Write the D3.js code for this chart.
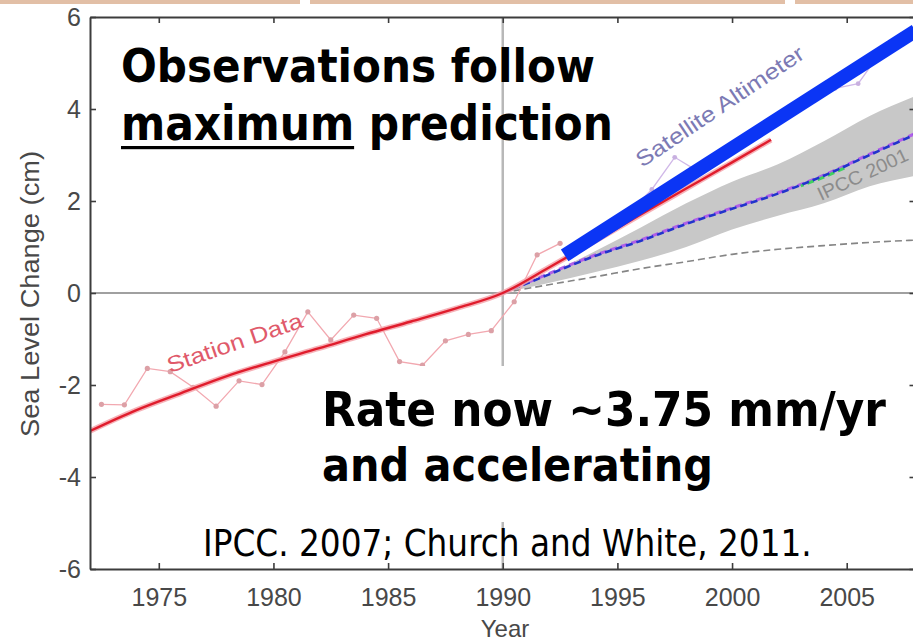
<!DOCTYPE html>
<html><head><meta charset="utf-8">
<script src="https://cdn.jsdelivr.net/npm/d3@7"></script>
<style>html,body{margin:0;padding:0;background:#fff;overflow:hidden}</style>
</head><body>
<svg id="c" width="913" height="644"></svg>
<script>
// ---------- data ----------
const xTicks = [1975, 1980, 1985, 1990, 1995, 2000, 2005];
const yTicks = [-6, -4, -2, 0, 2, 4, 6];

const stationYears = [1972.5,1973.5,1974.5,1975.5,1976.5,1977.5,1978.5,1979.5,1980.5,1981.5,1982.5,1983.5,1984.5,1985.5,1986.5,1987.5,1988.5,1989.5,1990.5,1991.5,1992.5];
const stationValues = [-2.42,-2.43,-1.64,-1.71,-2.05,-2.46,-1.91,-1.99,-1.28,-0.41,-1.02,-0.48,-0.55,-1.49,-1.57,-1.04,-0.90,-0.82,-0.19,0.83,1.08];

const trendYears = [1972,1974,1976,1978,1980,1982,1984,1986,1988,1990,1992,1994,1996,1998,2000,2001.7];
const trendValues = [-3.0,-2.55,-2.17,-1.8,-1.49,-1.2,-0.9,-0.62,-0.33,0,0.55,1.12,1.7,2.27,2.84,3.33];

const satYears = [1993.5,1994.5,1995.5,1996.5,1997.5,1998.5,1999.5,2000.5,2001.5,2002.5,2003.5,2004.5,2005.5,2006.5];
const satValues = [1.0,1.3,1.75,2.25,2.95,2.65,3.05,3.25,3.55,4.05,4.2,4.45,4.55,5.25];

const projYears = [1990,1992,1994,1996,1998,2000,2002,2004,2006,2008];
const bandUpper = [0,0.42,0.9,1.42,1.95,2.42,2.8,3.3,3.85,4.28];
const bandLower = [0,0.22,0.45,0.7,1.0,1.38,1.68,1.95,2.32,2.55];
const projCentral = [0,0.4,0.8,1.13,1.5,1.83,2.16,2.55,3.0,3.45];
const projMagenta = [0,0.42,0.82,1.15,1.52,1.85,2.18,2.56,3.02,3.47];
const projLow = [0,0.18,0.35,0.53,0.68,0.84,0.95,1.03,1.1,1.15];
const greenYears = [2003,2004,2005];
const greenValues = [2.33,2.52,2.74];

const maxYears = [1992.7, 2008];
const maxValues = [0.82, 5.70];

// ---------- setup ----------
const svg = d3.select("#c");
const X0 = 90, X1 = 915.5, Y0 = 17, Y1 = 569;
const x = d3.scaleLinear().domain([1972, 2008]).range([X0, X1]);
const y = d3.scaleLinear().domain([-6, 6]).range([Y1, Y0]);
const fmt = d => String(d);

// decorative top bars
[[0,300],[310,785],[795,913]].forEach(([a,b]) =>
  svg.append("rect").attr("x",a).attr("y",0).attr("width",b-a).attr("height",4).attr("fill","#e2bfa6"));

svg.append("defs").append("clipPath").attr("id","plot")
  .append("rect").attr("x",X0).attr("y",Y0).attr("width",X1-X0).attr("height",Y1-Y0);
const g = svg.append("g").attr("clip-path","url(#plot)");

// reference lines
g.append("line").attr("x1",x(1990)).attr("x2",x(1990)).attr("y1",Y0).attr("y2",Y1)
  .attr("stroke","#b8b8b8").attr("stroke-width",2.5);
g.append("line").attr("x1",X0).attr("x2",X1).attr("y1",y(0)).attr("y2",y(0))
  .attr("stroke","#808080").attr("stroke-width",1.6);

const lineP = (xs, vs, curve) => d3.line().curve(curve || d3.curveMonotoneX)
  .x((d,i)=>x(xs[i])).y((d,i)=>y(vs[i]))(vs);

// band
const area = d3.area().curve(d3.curveMonotoneX)
  .x((d,i)=>x(projYears[i])).y0((d,i)=>y(bandLower[i])).y1((d,i)=>y(bandUpper[i]));
g.append("path").attr("d", area(projYears)).attr("fill","#c8c8c8");

// projections
g.append("path").attr("d", lineP(projYears, projLow)).attr("fill","none")
  .attr("stroke","#858585").attr("stroke-width",1.6).attr("stroke-dasharray","7,4");
g.append("path").attr("d", lineP(projYears, projMagenta)).attr("fill","none")
  .attr("stroke","#b060e8").attr("stroke-width",3).attr("stroke-dasharray","7,4").attr("stroke-dashoffset",5);
g.append("path").attr("d", lineP(greenYears, greenValues)).attr("fill","none")
  .attr("stroke","#40d060").attr("stroke-width",3).attr("stroke-dasharray","7,4").attr("stroke-dashoffset",4);
g.append("path").attr("d", lineP(projYears, projCentral)).attr("fill","none")
  .attr("stroke","#2233cc").attr("stroke-width",2.6).attr("stroke-dasharray","7,4");

// station data
g.append("path").attr("d", lineP(stationYears, stationValues, d3.curveLinear)).attr("fill","none")
  .attr("stroke","#f2a8b0").attr("stroke-width",1.3);
g.selectAll(".st").data(stationValues).join("circle")
  .attr("cx",(d,i)=>x(stationYears[i])).attr("cy",d=>y(d)).attr("r",2.6).attr("fill","#dca0a6");

// satellite data
g.append("path").attr("d", lineP(satYears, satValues, d3.curveLinear)).attr("fill","none")
  .attr("stroke","#d0b8e8").attr("stroke-width",1.3);
g.selectAll(".sa").data(satValues).join("circle")
  .attr("cx",(d,i)=>x(satYears[i])).attr("cy",d=>y(d)).attr("r",2.4).attr("fill","#c8b0e0");

// red trend
g.append("path").attr("d", lineP(trendYears, trendValues)).attr("fill","none")
  .attr("stroke","#f4a4ac").attr("stroke-width",5.5).attr("stroke-opacity",0.85);
g.append("path").attr("d", lineP(trendYears, trendValues)).attr("fill","none")
  .attr("stroke","#e01c2c").attr("stroke-width",2.4);

// labels in chart
function rotLabel(txt, px, py, ang, size, color, len) {
  svg.append("text").attr("transform",`translate(${px},${py}) rotate(${ang})`)
    .attr("font-family","'Liberation Sans', Arial, sans-serif").attr("font-size",size)
    .attr("textLength",len).attr("lengthAdjust","spacingAndGlyphs")
    .attr("fill",color).text(txt);
}
rotLabel("Station Data", 170, 373, -19, 22, "#e05a6a", 142);
rotLabel("Satellite Altimeter", 642, 168, -34, 22, "#7c7ab4", 198);
rotLabel("IPCC 2001", 821, 201, -25, 19, "#8c8c8c", 98);

// thick blue line
svg.append("path").attr("d", lineP(maxYears, maxValues, d3.curveLinear)).attr("fill","none")
  .attr("stroke","#0b35f5").attr("stroke-width",14);

// axes
const axCol = "#3c3c3c";
function styleAxis(sel) {
  sel.select(".domain").attr("stroke",axCol).attr("stroke-width",2);
  sel.selectAll(".tick line").attr("stroke",axCol).attr("stroke-width",1.6);
  sel.selectAll(".tick text").attr("fill","#484848").attr("font-size",25)
    .attr("font-family","'Liberation Sans', Arial, sans-serif");
}
svg.append("g").attr("transform",`translate(0,${Y1})`)
  .call(d3.axisBottom(x).tickValues(xTicks).tickFormat(fmt).tickSizeInner(-6).tickSizeOuter(0).tickPadding(19))
  .call(styleAxis);
svg.append("g").attr("transform",`translate(0,${Y0})`)
  .call(d3.axisTop(x).tickValues(xTicks).tickFormat("").tickSizeInner(-6).tickSizeOuter(0))
  .call(styleAxis);
svg.append("g").attr("transform",`translate(${X0},0)`)
  .call(d3.axisLeft(y).tickValues(yTicks).tickFormat(fmt).tickSizeInner(-6).tickSizeOuter(0).tickPadding(9))
  .call(styleAxis);
svg.append("g").attr("transform",`translate(${X1},0)`)
  .call(d3.axisRight(y).tickValues(yTicks).tickFormat("").tickSizeInner(-6).tickSizeOuter(0))
  .call(styleAxis);

svg.append("text").attr("x",505).attr("y",637).attr("text-anchor","middle")
  .attr("font-family","'Liberation Sans', Arial, sans-serif").attr("font-size",24).attr("fill","#484848").text("Year");
svg.append("text").attr("transform","translate(39,294) rotate(-90)").attr("text-anchor","middle")
  .attr("font-family","'Liberation Sans', Arial, sans-serif").attr("font-size",26).attr("fill","#484848")
  .attr("textLength",286).attr("lengthAdjust","spacingAndGlyphs")
  .text("Sea Level Change (cm)");

// annotation texts
const bigFont = "'DejaVu Sans Condensed','DejaVu Sans',sans-serif";
function fitText(t, target) {
  const w = t.node().getComputedTextLength();
  t.attr("font-size", parseFloat(t.attr("font-size")) * target / w);
  return t;
}
function bigText(txt, px, py, w, weight) {
  const t = svg.append("text").attr("x",px).attr("y",py).attr("font-family",bigFont)
    .attr("font-weight",weight||"bold").attr("font-stretch","condensed").attr("font-size",40).attr("fill","#000").text(txt);
  return fitText(t, w);
}
svg.append("rect").attr("x",300).attr("y",366).attr("width",600).attr("height",156).attr("fill","#fff");

bigText("Observations follow", 121, 82, 474);
const l2 = bigText("maximum prediction", 121, 140, 492);
const uw = l2.node().getSubStringLength(0,7);
svg.append("rect").attr("x",121).attr("y",146).attr("width",uw).attr("height",3.2).attr("fill","#000");
bigText("Rate now ~3.75 mm/yr", 322, 426, 564);
bigText("and accelerating", 322, 481, 391);
bigText("IPCC. 2007; Church and White, 2011.", 203, 556, 609, "normal");
</script>
</body></html>
